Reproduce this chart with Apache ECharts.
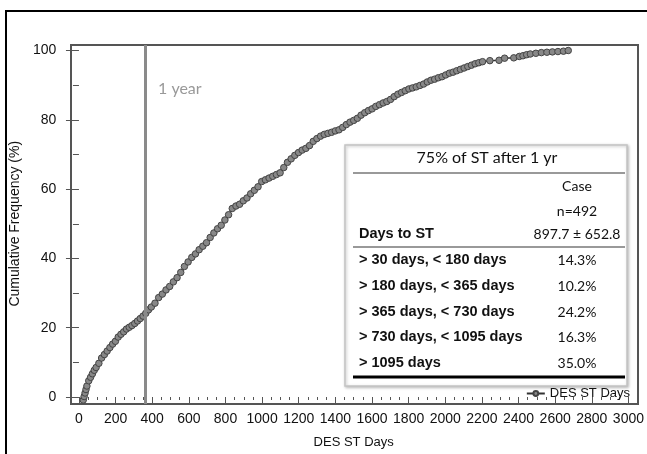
<!DOCTYPE html>
<html>
<head>
<meta charset="utf-8">
<script src="https://cdn.jsdelivr.net/npm/echarts@6/dist/echarts.min.js"></script>
<style>
html, body { margin: 0; padding: 0; background: #fff; }
#chart { width: 647px; height: 454px; }
</style>
</head>
<body>
<div id="chart"></div>
<script>
// days to stent thrombosis
const stDays = [30, 35, 40, 45, 50, 60, 70, 80, 90, 100, 115, 130, 145, 160, 175, 190, 205, 220, 235, 250,
    265, 280, 295, 310, 325, 340, 355, 370, 385, 400, 420, 440, 460, 480, 500, 520, 540, 560, 580, 600,
    620, 640, 660, 680, 700, 720, 740, 760, 780, 800, 820, 840, 860, 880, 900, 920, 940, 960, 980, 1000,
    1020, 1040, 1060, 1080, 1100, 1120, 1140, 1160, 1180, 1200, 1220, 1240, 1260, 1280, 1300, 1320, 1340, 1360, 1380, 1400,
    1420, 1440, 1460, 1480, 1500, 1520, 1540, 1560, 1580, 1600, 1620, 1640, 1660, 1680, 1700, 1720, 1740, 1760, 1780, 1800,
    1820, 1840, 1860, 1880, 1900, 1920, 1940, 1960, 1980, 2000, 2020, 2040, 2060, 2080, 2100, 2120, 2140, 2160, 2180, 2200,
    2240, 2290, 2320, 2370, 2400, 2420, 2440, 2460, 2490, 2520, 2550, 2580, 2610, 2640, 2666];
const cumFreq = [0, 1, 2, 3, 4, 5.5, 6.5, 7.5, 8.5, 9.3, 10.5, 12, 13, 14, 15, 16, 16.8, 18, 18.8, 19.5,
    20.3, 20.8, 21.3, 21.9, 22.6, 23.3, 24, 24.8, 25.8, 26.6, 27.7, 29.3, 30.3, 31.5, 32.5, 33.8, 35, 36.5, 38.2, 39.5,
    40.8, 41.8, 43, 44, 45, 46.5, 47.8, 49, 50, 51.5, 53, 54.8, 55.5, 56, 57, 57.8, 59, 60, 61, 62.5,
    63, 63.5, 64, 64.5, 65, 66.5, 68, 69, 70, 70.8, 71.5, 72, 72.8, 74, 74.8, 75.5, 76, 76.3, 76.6, 77,
    77.3, 78, 78.8, 79.5, 80, 80.6, 81.5, 82.2, 82.8, 83.3, 84, 84.5, 85, 85.4, 86, 86.8, 87.5, 88, 88.5, 89,
    89.3, 89.6, 90, 90.4, 91, 91.5, 91.8, 92.2, 92.5, 93, 93.5, 93.8, 94.2, 94.6, 95, 95.4, 95.8, 96.2, 96.5, 96.8,
    97.1, 97.2, 97.8, 97.9, 98.3, 98.5, 98.8, 99, 99.2, 99.4, 99.5, 99.6, 99.7, 99.8, 100];

const xTicks = [0, 200, 400, 600, 800, 1000, 1200, 1400, 1600, 1800, 2000, 2200, 2400, 2600, 2800, 3000];
const yTicks = [0, 20, 40, 60, 80, 100];
const oneYear = 365;

const tableTitle = '75% of ST after 1 yr';
const caseHeader = ['Case', 'n=492'];
const daysToST = ['Days to ST', '897.7 \u00b1 652.8'];
const binLabels = ['> 30 days, < 180 days', '> 180 days, < 365 days', '> 365 days, < 730 days',
    '> 730 days, < 1095 days', '> 1095 days'];
const binPct = ['14.3%', '10.2%', '24.2%', '16.3%', '35.0%'];

// layout (pixels)
const frame = {left: 71, top: 45, right: 638, bottom: 404};
const plot = {x0: 77.7, x1: 629.7, y100: 50.5, y0: 400};
const W = 647, H = 454;
const pxPerDay = (plot.x1 - plot.x0) / 3000;
const pxPerPct = (plot.y0 - plot.y100) / 100;

const arial = '"Liberation Sans", Arial, sans-serif';
const calibri = 'Lato, "Open Sans", sans-serif';
const ink = '#111';

const chart = echarts.init(document.getElementById('chart'), null, {renderer: 'canvas'});

const tableGraphic = [];
const tx0 = 345, ty0 = 145, tw = 282, th = 241;
const colL = 359, colR = 577;
tableGraphic.push({
    type: 'rect', shape: {x: tx0, y: ty0, width: tw, height: th},
    style: {fill: '#fff', stroke: '#c4c4c4', lineWidth: 1.5, shadowBlur: 3, shadowColor: 'rgba(0,0,0,0.25)', shadowOffsetX: 1, shadowOffsetY: 1}
});
function txt(text, x, y, align, font) {
    return {type: 'text', x: x, y: y, style: {text: text, align: align, verticalAlign: 'middle', font: font, fill: ink}};
}
function hline(y, w, color) {
    return {type: 'line', shape: {x1: 353, y1: y, x2: 625, y2: y}, style: {stroke: color, lineWidth: w}};
}
tableGraphic.push(txt(tableTitle, 487, 158, 'center', '16px ' + calibri));
tableGraphic.push(hline(173, 1.5, '#777'));
tableGraphic.push(txt(caseHeader[0], colR, 186, 'center', '14px ' + calibri));
tableGraphic.push(txt(caseHeader[1], colR, 211, 'center', '14px ' + calibri));
tableGraphic.push(txt(daysToST[0], colL, 234, 'left', 'bold 14.5px ' + arial));
tableGraphic.push(txt(daysToST[1], colR, 234, 'center', '14px ' + calibri));
tableGraphic.push(hline(247, 1.5, '#777'));
const rowY = [260, 286, 312, 337, 363];
binLabels.forEach((lab, i) => {
    tableGraphic.push(txt(lab, colL, rowY[i], 'left', 'bold 14.5px ' + arial));
    tableGraphic.push(txt(binPct[i], colR, rowY[i], 'center', '14px ' + calibri));
});
tableGraphic.push(hline(377, 3, '#000'));

const option = {
    animation: false,
    backgroundColor: '#fff',
    legend: {
        data: ['DES ST Days'],
        right: 12, top: 382,
        itemWidth: 18, itemHeight: 6, itemGap: 3,
        textStyle: {fontFamily: arial, fontSize: 13, color: ink}
    },
    grid: [
        // the plot frame
        {left: frame.left, top: frame.top, right: W - frame.right, bottom: H - frame.bottom,
            show: true, borderColor: '#555', borderWidth: 2, backgroundColor: 'transparent'},
        // region used for the visible axes
        {left: plot.x0, top: plot.y100, right: W - plot.x1, bottom: H - plot.y0}
    ],
    xAxis: [
        {gridIndex: 0, type: 'value', show: false,
            min: -(plot.x0 - frame.left) / pxPerDay, max: 3000 + (frame.right - plot.x1) / pxPerDay},
        {gridIndex: 1, type: 'value', min: xTicks[0], max: xTicks[xTicks.length - 1], interval: xTicks[1] - xTicks[0],
            offset: frame.bottom - plot.y0,
            axisLine: {show: false},
            axisTick: {show: true, length: 6, lineStyle: {color: '#555'}},
            minorTick: {show: true, splitNumber: 4, length: 3, lineStyle: {color: '#555'}},
            splitLine: {show: false},
            axisLabel: {margin: 11, fontFamily: arial, fontSize: 14, color: ink, formatter: v => String(v)},
            name: 'DES ST Days', nameLocation: 'middle', nameGap: 35,
            nameTextStyle: {fontFamily: arial, fontSize: 13, color: ink}}
    ],
    yAxis: [
        {gridIndex: 0, type: 'value', show: false,
            min: -(frame.bottom - plot.y0) / pxPerPct, max: 100 + (plot.y100 - frame.top) / pxPerPct},
        {gridIndex: 1, type: 'value', min: yTicks[0], max: yTicks[yTicks.length - 1], interval: yTicks[1] - yTicks[0],
            offset: plot.x0 - frame.left,
            axisLine: {show: false},
            axisTick: {show: true, length: 13, lineStyle: {color: '#555'}},
            minorTick: {show: true, splitNumber: 2, length: 6, lineStyle: {color: '#555'}},
            splitLine: {show: false},
            axisLabel: {margin: 16, fontFamily: arial, fontSize: 14, color: ink, formatter: v => String(v)},
            name: 'Cumulative Frequency (%)', nameLocation: 'middle', nameGap: 42,
            nameTextStyle: {fontFamily: arial, fontSize: 14, color: ink}}
    ],
    series: [{
        name: 'DES ST Days',
        type: 'line',
        xAxisIndex: 0, yAxisIndex: 0,
        data: stDays.map((d, i) => [d, cumFreq[i]]),
        symbol: 'circle', symbolSize: 6.5, showAllSymbol: true,
        lineStyle: {color: '#333', width: 1.5},
        itemStyle: {color: '#888', borderColor: '#444', borderWidth: 1},
        z: 3,
        markLine: {
            silent: true, symbol: 'none',
            label: {show: false},
            lineStyle: {color: '#8a8a8a', width: 3, type: 'solid'},
            data: [{xAxis: oneYear}]
        }
    }],
    graphic: [
        {type: 'rect', shape: {x: 6, y: 11, width: 700, height: 500}, style: {fill: 'none', stroke: '#000', lineWidth: 2}, z: 100},
        {type: 'text', x: 158, y: 89, style: {text: '1 year', verticalAlign: 'middle', font: '16px ' + calibri, fill: '#999'}},
        {type: 'group', children: tableGraphic, z: 50}
    ]
};

chart.setOption(option);
</script>
</body>
</html>
